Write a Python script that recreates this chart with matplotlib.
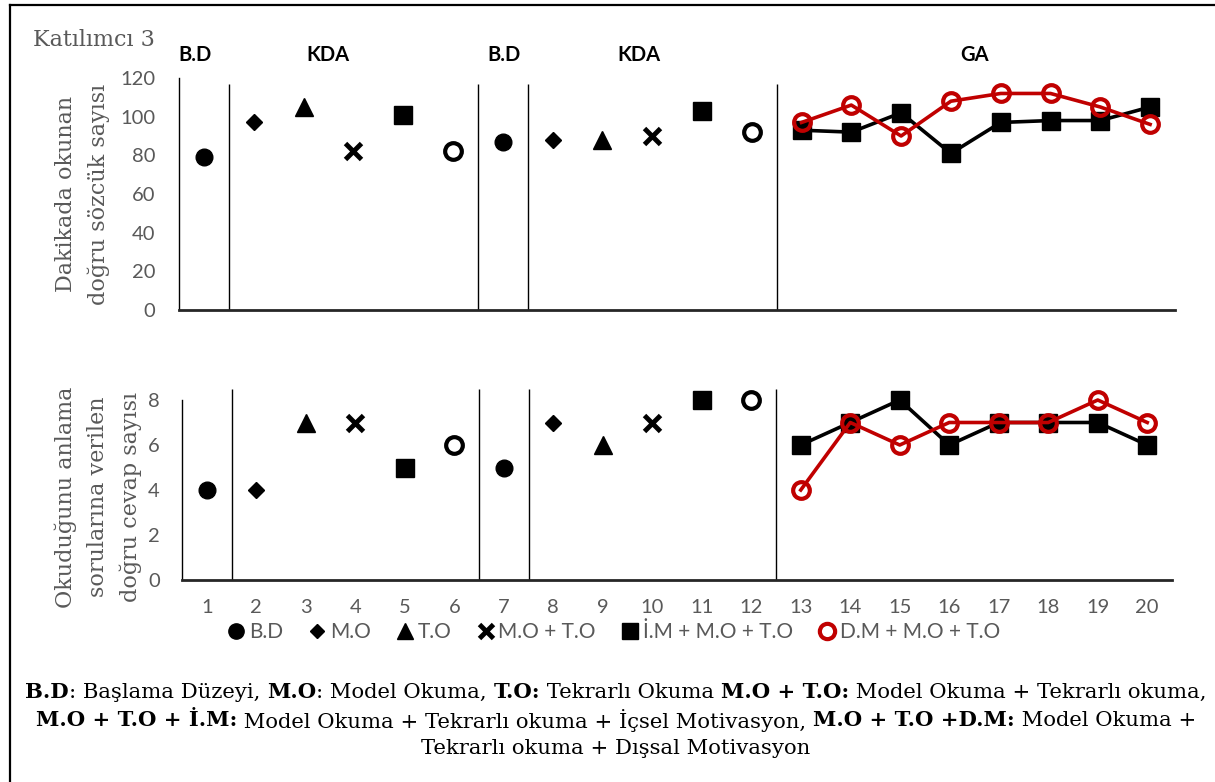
import numpy as np
import matplotlib
matplotlib.use("Agg")
import matplotlib.pyplot as plt
from matplotlib.lines import Line2D

# Sessions and values.
sessions = list(range(1, 21))

# Top panel: words read correctly per minute.
wpm_bd_x = [1, 7]
wpm_bd = [79, 87]
wpm_mo_x = [2, 8]
wpm_mo = [97, 88]
wpm_to_x = [3, 9]
wpm_to = [105, 88]
wpm_moto_x = [4, 10]
wpm_moto = [82, 90]
wpm_im_x = [5, 11]
wpm_im = [101, 103]
wpm_open_x = [6, 12]
wpm_open = [82, 92]
ga_x = list(range(13, 21))
wpm_ga_im = [93, 92, 102, 81, 97, 98, 98, 105]
wpm_ga_dm = [97, 106, 90, 108, 112, 112, 105, 96]

# Bottom panel: correct answers to comprehension questions.
cmp_bd = [4, 5]
cmp_mo = [4, 7]
cmp_to = [7, 6]
cmp_moto = [7, 7]
cmp_im = [5, 8]
cmp_open = [6, 8]
cmp_ga_im = [6, 7, 8, 6, 7, 7, 7, 6]
cmp_ga_dm = [4, 7, 6, 7, 7, 7, 8, 7]

phase_lines = [1.5, 6.5, 7.5, 12.5]
phase_labels = ["B.D", "KDA", "B.D", "KDA", "GA"]
phase_label_x = [0.82, 3.49, 7.03, 9.74, 16.48]

legend_labels = ["B.D", "M.O", "T.O", "M.O + T.O", "İ.M + M.O + T.O", "D.M + M.O + T.O"]

caption_lines = [
    [("B.D", True), (": Başlama Düzeyi, ", False), ("M.O", True), (": Model Okuma, ", False),
     ("T.O:", True), (" Tekrarlı Okuma ", False), ("M.O + T.O:", True),
     (" Model Okuma + Tekrarlı okuma,", False)],
    [("M.O + T.O + İ.M:", True), (" Model Okuma + Tekrarlı okuma + İçsel Motivasyon, ", False),
     ("M.O + T.O +D.M:", True), (" Model Okuma +", False)],
    [("Tekrarlı okuma + Dışsal Motivasyon", False)],
]

RED = "#C00000"
GRAY = "#595959"
SANS = "Lato"
SERIF = "DejaVu Serif"

W, H = 1215, 782
fig = plt.figure(figsize=(W / 100, H / 100), dpi=100)

ax1 = fig.add_axes([179 / W, 1 - 310 / H, 996 / W, 232 / H])
ax2 = fig.add_axes([182 / W, 1 - 580 / H, 990 / W, 180 / H])

pt_style = dict(color="black", linestyle="none", clip_on=False, zorder=3)


def draw_points(ax, vals):
    bd, mo, to, moto, im, op, ga_im, ga_dm = vals
    ax.plot(wpm_bd_x, bd, marker="o", markersize=12, **pt_style)
    ax.plot(wpm_mo_x, mo, marker="D", markersize=8.5, **pt_style)
    ax.plot(wpm_to_x, to, marker="^", markersize=13, **pt_style)
    ax.plot(wpm_moto_x, moto, marker="x", markersize=11, markeredgewidth=3.5, **pt_style)
    ax.plot(wpm_im_x, im, marker="s", markersize=13, **pt_style)
    ax.plot(wpm_open_x, op, marker="o", markersize=12, markerfacecolor="white",
            markeredgewidth=3, **pt_style)
    ax.plot(ga_x, ga_im, color="black", linewidth=2.6, marker="s", markersize=13,
            clip_on=False, zorder=3)
    ax.plot(ga_x, ga_dm, color=RED, linewidth=2.6, marker="o", markersize=12,
            markerfacecolor="none", markeredgewidth=3, clip_on=False, zorder=4)


draw_points(ax1, [wpm_bd, wpm_mo, wpm_to, wpm_moto, wpm_im, wpm_open, wpm_ga_im, wpm_ga_dm])
draw_points(ax2, [cmp_bd, cmp_mo, cmp_to, cmp_moto, cmp_im, cmp_open, cmp_ga_im, cmp_ga_dm])

for ax, top, ymax, step in [(ax1, 117, 120, 20), (ax2, 8.5, 8, 2)]:
    ax.set_xlim(0.5, 20.5)
    ax.set_ylim(0, ymax)
    ax.set_yticks(np.arange(0, ymax + 1, step))
    ax.vlines(phase_lines, 0, top, color="black", linewidth=1, clip_on=False)
    for s in ["top", "right"]:
        ax.spines[s].set_visible(False)
    ax.spines["left"].set_linewidth(1)
    ax.spines["left"].set_color("black")
    ax.spines["bottom"].set_linewidth(2)
    ax.spines["bottom"].set_color("#262626")
    ax.tick_params(length=0, labelsize=14.5, labelcolor=GRAY)
    for lab in ax.get_yticklabels():
        lab.set_fontfamily(SANS)

ax1.tick_params(axis="y", pad=17)
ax1.set_xticks([])
ax2.tick_params(axis="y", pad=16)
ax2.tick_params(axis="x", pad=14)
ax2.set_xticks(sessions)
for lab in ax2.get_xticklabels():
    lab.set_fontfamily(SANS)

# Phase labels above the top panel.
for lx, lt in zip(phase_label_x, phase_labels):
    ax1.text(lx, 132, lt, ha="center", va="center", fontsize=14.5, fontweight="bold",
             fontfamily=SANS, clip_on=False)

# Legend, marker only.
handles = [
    Line2D([], [], color="black", linestyle="none", marker="o", markersize=11),
    Line2D([], [], color="black", linestyle="none", marker="D", markersize=7.5),
    Line2D([], [], color="black", linestyle="none", marker="^", markersize=11),
    Line2D([], [], color="black", linestyle="none", marker="x", markersize=10, markeredgewidth=3.5),
    Line2D([], [], color="black", linestyle="none", marker="s", markersize=12),
    Line2D([], [], color=RED, linestyle="none", marker="o", markersize=11,
           markerfacecolor="none", markeredgewidth=3),
]
leg = fig.legend(handles, legend_labels, loc="center", bbox_to_anchor=(614 / W, 1 - 632 / H),
                 ncol=6, frameon=False, handlelength=0.8, handletextpad=0.2,
                 columnspacing=1.25, prop={"family": SANS, "size": 15})
for t in leg.get_texts():
    t.set_color(GRAY)

# Title and axis titles.
fig.text(33 / W, 1 - 40 / H, "Katılımcı 3", ha="left", va="center", fontsize=16,
         fontfamily=SERIF, color=GRAY)
fig.text(83 / W, 1 - 194 / H, "Dakikada okunan\ndoğru sözcük sayısı", rotation=90,
         ha="center", va="center", fontsize=16, fontfamily=SERIF, color=GRAY,
         multialignment="center", linespacing=1.6)
fig.text(98 / W, 1 - 497 / H, "Okuduğunu anlama\nsorularına verilen\ndoğru cevap sayısı",
         rotation=90, ha="center", va="center", fontsize=16, fontfamily=SERIF, color=GRAY,
         multialignment="center", linespacing=1.6)

# Caption with mixed bold/regular runs, centred line by line.
renderer = fig.canvas.get_renderer()
caption_y = [692, 720, 749]
for segs, cy in zip(caption_lines, caption_y):
    texts = []
    widths = []
    for s, bold in segs:
        t = fig.text(0, 1 - cy / H, s, ha="left", va="center", fontsize=15.2,
                     fontfamily=SERIF, fontweight="bold" if bold else "normal", color="black")
        bb = t.get_window_extent(renderer=renderer)
        texts.append(t)
        widths.append(bb.width)
    x = 616 - sum(widths) / 2
    for t, w in zip(texts, widths):
        t.set_x(x / W)
        x += w

# Outer frame (left and top edges visible in the reference).
fig.add_artist(Line2D([10 / W, 10 / W], [0, 1 - 5 / H], color="black", linewidth=1.6))
fig.add_artist(Line2D([10 / W, 1], [1 - 5 / H, 1 - 5 / H], color="black", linewidth=1.6))

fig.savefig("out.png", dpi=100)
